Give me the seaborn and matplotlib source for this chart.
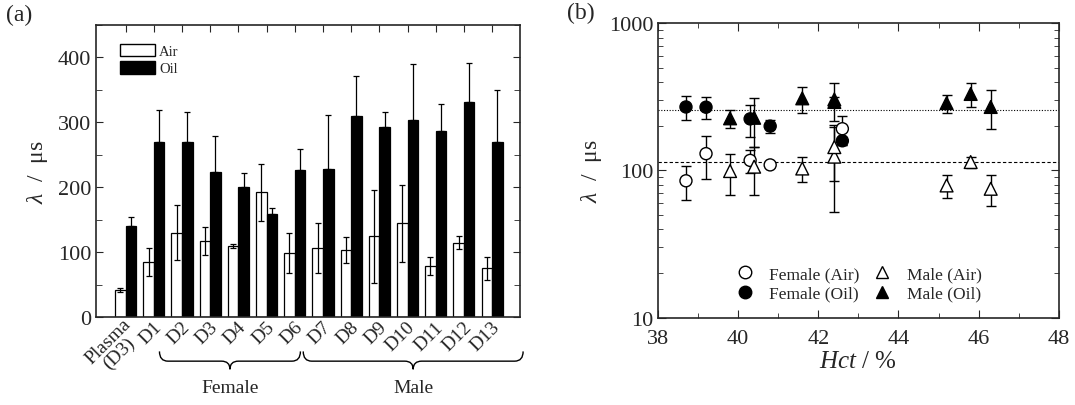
import numpy as np
import pandas as pd
import matplotlib
matplotlib.use("Agg")
import matplotlib.pyplot as plt
import seaborn as sns
from matplotlib.path import Path
from matplotlib.patches import PathPatch, Patch
from matplotlib.lines import Line2D
from matplotlib.transforms import blended_transform_factory, ScaledTranslation
from matplotlib.ticker import MultipleLocator, NullFormatter, LogLocator

# ---- data ----
samples = ["Plasma\n(D3)", "D1", "D2", "D3", "D4", "D5", "D6",
           "D7", "D8", "D9", "D10", "D11", "D12", "D13"]
air_mean = [42, 85, 130, 117, 109, 192, 99, 106, 103, 124, 144, 79, 114, 75]
air_sd = [3, 22, 42, 21, 3, 44, 31, 38, 20, 72, 59, 14, 10, 18]
oil_mean = [140, 270, 269, 224, 200, 159, 226, 228, 309, 292, 304, 287, 331, 270]
oil_sd = [14, 49, 46, 55, 21, 9, 32, 83, 62, 23, 86, 41, 60, 80]

# donors D1..D13 in panel (b)
donor_hct = [38.7, 39.2, 40.3, 40.8, 42.6, 39.8, 40.4, 41.6, 42.4, 42.4, 45.2, 45.8, 46.3]
marker_group = ["Female"] * 5 + ["Male"] * 8

# brace spans (in group units) under the x labels
brace_spans = {"Female": (1.2, 6.2), "Male": (6.3, 14.1)}

sns.set_style("ticks")
plt.rcParams["font.family"] = ["Liberation Serif", "DejaVu Serif"]
plt.rcParams["mathtext.fontset"] = "custom"
plt.rcParams["mathtext.rm"] = "Liberation Serif"
plt.rcParams["mathtext.it"] = "Liberation Serif:italic"
plt.rcParams["axes.linewidth"] = 1.2

fig = plt.figure(figsize=(10.75, 4.06), dpi=100)
ax1 = fig.add_axes([0.0896, 0.2167, 0.3944, 0.72])
ax2 = fig.add_axes([0.612, 0.2155, 0.373, 0.7246])

#====================================
# (a) bar chart
bar_df = pd.DataFrame({
    "sample": samples * 2,
    "medium": ["Air"] * len(samples) + ["Oil"] * len(samples),
    "lam": air_mean + oil_mean,
})
sns.barplot(data=bar_df, x="sample", y="lam", hue="medium", order=samples,
            hue_order=["Air", "Oil"], palette={"Air": "white", "Oil": "black"},
            edgecolor="black", linewidth=0.9, width=0.75, errorbar=None,
            saturation=1, legend=False, ax=ax1)

for cont, means, sds, both in zip(ax1.containers, [air_mean, oil_mean],
                                  [air_sd, oil_sd], [True, False]):
    xs = [p.get_x() + p.get_width() / 2 for p in cont]
    lower = sds if both else [0] * len(sds)
    ax1.errorbar(xs, means, yerr=[lower, sds], fmt="none", ecolor="black",
                 elinewidth=0.9, capsize=2.3, capthick=0.9)

ax1.set_xlim(-1.04, 14.0)
ax1.set_ylim(0, 450)
ax1.yaxis.set_major_locator(MultipleLocator(100))
ax1.yaxis.set_minor_locator(MultipleLocator(50))
ax1.tick_params(axis="y", which="both", direction="in", right=True, labelsize=16)
ax1.tick_params(axis="y", which="major", length=5)
ax1.tick_params(axis="y", which="minor", length=4)
ax1.tick_params(axis="x", direction="in", top=True, bottom=False, length=5, pad=5)
ax1.set_xticks(range(len(samples)))
ax1.set_xticklabels(samples, rotation=45, ha="right", va="center",
                    rotation_mode="anchor", fontsize=14, linespacing=0.9)
shift = ScaledTranslation(5 / 100, 0, fig.dpi_scale_trans)
for lab in ax1.get_xticklabels():
    lab.set_transform(lab.get_transform() + shift)
    lab.set_multialignment("center")
plasma_lab = ax1.get_xticklabels()[0]
plasma_lab.set_transform(plasma_lab.get_transform()
                         + ScaledTranslation(3 / 100, -3 / 100, fig.dpi_scale_trans))
ax1.set_xlabel("")
ax1.set_ylabel(r"$\lambda$  /  μs", fontsize=17, labelpad=6)

ax1.legend(handles=[Patch(facecolor="white", edgecolor="black", label="Air"),
                    Patch(facecolor="black", edgecolor="black", label="Oil")],
           loc="upper left", bbox_to_anchor=(0.035, 0.965), frameon=False,
           fontsize=10.5, handlelength=2.4, handleheight=0.9,
           handletextpad=0.3, labelspacing=0.25, borderaxespad=0.2)

# curly braces under the tick labels
btrans = blended_transform_factory(ax1.transData, fig.transFigure)
y_top, y_mid, y_bot = 0.132, 0.108, 0.088
d = 0.3
for name, (x0, x1) in brace_spans.items():
    xc = (x0 + x1) / 2
    verts = [(x0, y_top), (x0, y_mid), (x0 + d, y_mid),
             (xc - d, y_mid),
             (xc, y_mid), (xc, y_bot),
             (xc, y_mid), (xc + d, y_mid),
             (x1 - d, y_mid),
             (x1, y_mid), (x1, y_top)]
    codes = [Path.MOVETO, Path.CURVE3, Path.CURVE3, Path.LINETO,
             Path.CURVE3, Path.CURVE3, Path.CURVE3, Path.CURVE3,
             Path.LINETO, Path.CURVE3, Path.CURVE3]
    ax1.add_patch(PathPatch(Path(verts, codes), transform=btrans, fill=False,
                            lw=1.0, edgecolor="black", clip_on=False))
    ax1.text(xc, 0.044, name, transform=btrans, ha="center", va="center",
             fontsize=14)

#====================================
# (b) lambda vs Hct
pts = pd.DataFrame({
    "hct": donor_hct * 2,
    "lam": air_mean[1:] + oil_mean[1:],
    "sd": air_sd[1:] + oil_sd[1:],
    "medium": ["Air"] * len(donor_hct) + ["Oil"] * len(donor_hct),
    "group": marker_group * 2,
})

ax2.errorbar(pts["hct"], pts["lam"], yerr=pts["sd"], fmt="none", ecolor="black",
             elinewidth=1.0, capsize=3.8, capthick=1.0, zorder=2)
marker_map = {"Female": "o", "Male": "^"}
size_map = {"Female": 75, "Male": 85}
for grp in ["Female", "Male"]:
    sub = pts[pts["group"] == grp]
    sns.scatterplot(data=sub, x="hct", y="lam", hue="medium",
                    palette={"Air": "white", "Oil": "black"},
                    marker=marker_map[grp], s=size_map[grp], edgecolor="black",
                    linewidth=1.0, legend=False, zorder=3, ax=ax2)

ax2.axhline(np.mean(oil_mean[1:]), color="black", lw=0.8, ls=(0, (1, 1.5)), zorder=1)
ax2.axhline(np.mean(air_mean[1:]), color="black", lw=0.8, ls=(0, (3, 2)), zorder=1)

ax2.set_yscale("log")
ax2.set_xlim(38, 48)
ax2.set_ylim(10, 1000)
ax2.set_xticks([38, 40, 42, 44, 46, 48])
ax2.xaxis.set_minor_locator(MultipleLocator(1))
ax2.set_yticks([10, 100, 1000])
ax2.set_yticklabels(["10", "100", "1000"])
ax2.yaxis.set_minor_locator(LogLocator(base=10, subs=np.arange(2, 10)))
ax2.yaxis.set_minor_formatter(NullFormatter())
ax2.tick_params(which="both", direction="in", top=True, right=True, labelsize=16)
ax2.tick_params(which="major", length=6)
ax2.tick_params(which="minor", length=3.5)
ax2.tick_params(axis="x", which="major", pad=8)
ax2.tick_params(axis="y", which="major", pad=3)
ax2.set_xlabel(r"$Hct$ / %", fontsize=18, labelpad=2)
ax2.set_ylabel(r"$\lambda$  /  μs", fontsize=17, labelpad=4)

handles = [
    Line2D([], [], ls="none", marker="o", ms=9, mfc="white", mec="black", label="Female (Air)"),
    Line2D([], [], ls="none", marker="o", ms=9, mfc="black", mec="black", label="Female (Oil)"),
    Line2D([], [], ls="none", marker="^", ms=9, mfc="white", mec="black", label="Male (Air)"),
    Line2D([], [], ls="none", marker="^", ms=9, mfc="black", mec="black", label="Male (Oil)"),
]
ax2.legend(handles=handles, ncol=2, loc="lower center", bbox_to_anchor=(0.495, 0.0),
           frameon=False, fontsize=12.5, handlelength=1.6, handletextpad=0.6,
           columnspacing=0.5, labelspacing=0.2)

fig.text(0.006, 0.962, "(a)", fontsize=17, ha="left", va="center")
fig.text(0.527, 0.968, "(b)", fontsize=17, ha="left", va="center")

fig.savefig("out.png", dpi=100)
